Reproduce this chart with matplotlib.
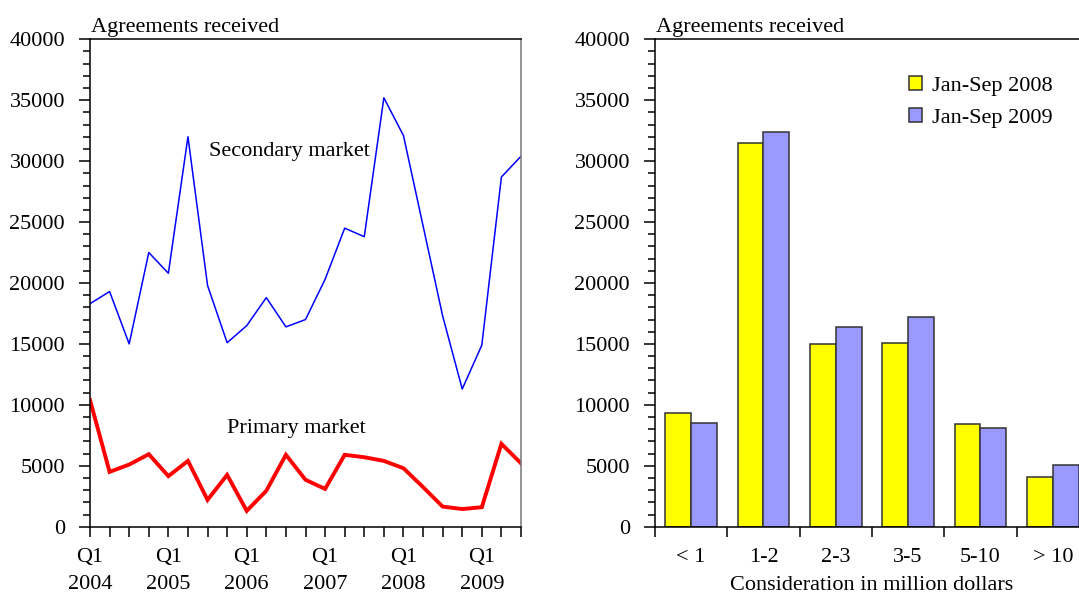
import numpy as np
import matplotlib
matplotlib.use("Agg")
import matplotlib.pyplot as plt
from matplotlib.ticker import MultipleLocator, FixedLocator

plt.rcParams['font.family'] = ['Liberation Serif', 'DejaVu Serif']
plt.rcParams['font.size'] = 16

# quarterly series, Q1 2004 .. Q3 2009
years = ['2004', '2005', '2006', '2007', '2008', '2009']
secondary = [18300, 19300, 15000, 22500, 20800, 32000, 19800, 15100,
             16500, 18800, 16400, 17000, 20300, 24500, 23800, 35200,
             32100, 24700, 17300, 11300, 14900, 28700, 30400]
primary = [10400, 4500, 5100, 5950, 4150, 5400, 2200, 4250,
           1300, 2950, 5900, 3850, 3100, 5900, 5700, 5400,
           4800, 3250, 1650, 1450, 1600, 6800, 5200]

# bar chart by size of consideration
categories = ['< 1', '1-2', '2-3', '3-5', '5-10', '> 10']
jan_sep_2008 = [9300, 31500, 15000, 15100, 8400, 4100]
jan_sep_2009 = [8500, 32400, 16400, 17200, 8100, 5100]

fig = plt.figure(figsize=(10.79, 5.97), dpi=100)
ax1 = fig.add_axes([90 / 1079, 1 - 526.7 / 597, 431 / 1079, 487.4 / 597])
ax2 = fig.add_axes([655 / 1079, 1 - 526.7 / 597, 434 / 1079, 487.4 / 597])


def style_y(ax):
    ax.set_ylim(0, 40000)
    ax.yaxis.set_major_locator(MultipleLocator(5000))
    ax.yaxis.set_minor_locator(MultipleLocator(1000))
    ax.tick_params(axis='y', which='major', direction='out', length=8, width=1.1, pad=10)
    ax.tick_params(axis='y', which='minor', direction='out', length=5, width=1.1)
    ax.tick_params(right=False, which='both')
    for s in ax.spines.values():
        s.set_linewidth(1.1)
    ax.text(0.003, 1.014, 'Agreements received', transform=ax.transAxes,
            ha='left', va='baseline')


# ---- left panel: lines
x = np.arange(len(secondary))
ax1.plot(x, secondary, color='#0000ff', lw=1.1)
ax1.plot(x, primary, color='#ff0000', lw=2.8, solid_joinstyle='miter')
ax1.set_xlim(0, len(secondary) - 1)
ax1.xaxis.set_major_locator(FixedLocator(np.arange(0, len(secondary), 4)))
ax1.set_xticklabels(['Q1\n' + y for y in years], linespacing=1.6)
ax1.xaxis.set_minor_locator(MultipleLocator(1))
ax1.tick_params(axis='x', which='both', direction='out', length=7, width=1.1, pad=8)
ax1.tick_params(top=False, which='both')
style_y(ax1)
ax1.spines['right'].set_color('#777777')
ax1.text(10.2, 30800, 'Secondary market', ha='center', va='center')
ax1.text(10.55, 8100, 'Primary market', ha='center', va='center')

# ---- right panel: bars
pos = np.arange(len(categories))
w = 0.355
ax2.bar(pos, jan_sep_2008, width=-w, align='edge', color='#ffff00',
        edgecolor='#333333', linewidth=1.1, label='Jan-Sep 2008')
ax2.bar(pos, jan_sep_2009, width=w, align='edge', color='#9999ff',
        edgecolor='#333333', linewidth=1.1, label='Jan-Sep 2009')
ax2.set_xlim(-0.5, len(categories) - 0.5)
ax2.set_xticks(pos)
ax2.set_xticklabels(categories)
ax2.xaxis.set_minor_locator(FixedLocator(np.arange(-0.5, len(categories), 1)))
ax2.tick_params(axis='x', which='major', length=0, pad=15)
ax2.tick_params(axis='x', which='minor', direction='out', length=7, width=1.1)
ax2.tick_params(top=False, which='both')
style_y(ax2)
ax2.set_xlabel('Consideration in million dollars', labelpad=7)
ax2.legend(loc='upper left', bbox_to_anchor=(0.56, 0.947), frameon=False,
           borderpad=0, handlelength=0.6, handleheight=0.6,
           handletextpad=0.45, labelspacing=0.55)

fig.savefig('out.png', dpi=100)
